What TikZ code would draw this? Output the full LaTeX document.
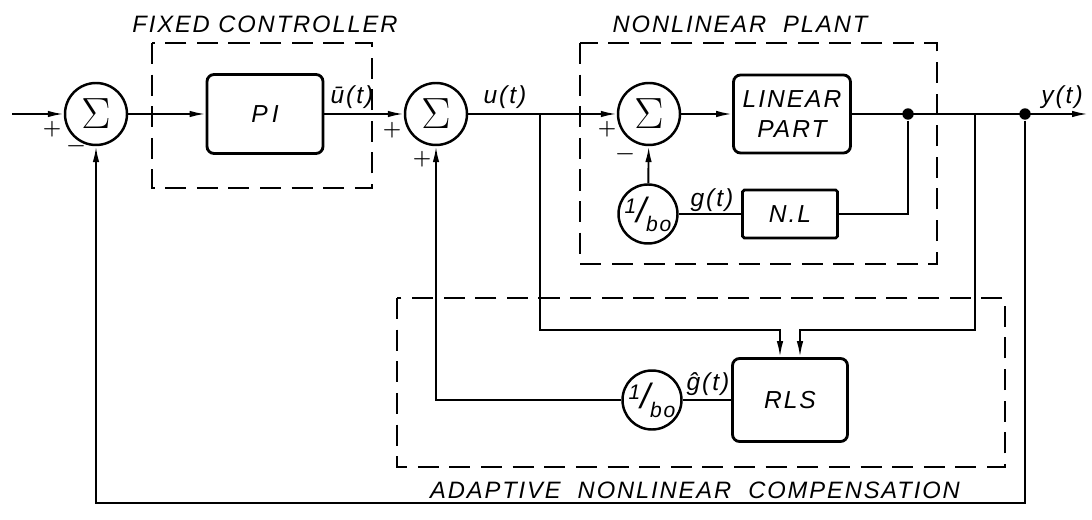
\documentclass[tikz,border=0pt]{standalone}
\usepackage{amsmath}
\usepackage{fontspec}
\usepackage{tikz}
\usetikzlibrary{arrows.meta}
\newfontfamily\lblfont[LetterSpace=8]{Liberation Sans}
\newcommand{\recipb}{\raisebox{5pt}{1}{\fontsize{20}{20}\selectfont/}\raisebox{-5pt}{bo}}

\begin{document}
\begin{tikzpicture}[x=0.02cm, y=-0.02cm, line width=1.1pt,
    >={Latex[length=3.2mm,width=1.3mm]},
    font=\lblfont\itshape\fontsize{14}{16}\selectfont,
    blk/.style={draw, line width=1.6pt, rounded corners=4pt, font=\lblfont\itshape\fontsize{14}{17}\selectfont},
    sum/.style={draw, circle, line width=1.4pt, minimum size=1.24cm, inner sep=0pt, font=\fontsize{25}{26}\selectfont},
    gain/.style={draw, circle, line width=1.4pt, minimum size=1.18cm, inner sep=0pt, font=\lblfont\itshape\fontsize{12}{13}\selectfont},
    grp/.style={line width=1.1pt, dash pattern=on 12pt off 6pt},
    glbl/.style={font=\lblfont\itshape\fontsize{13.5}{16}\selectfont},
    dot/.style={circle, fill, inner sep=0pt, minimum size=6.5pt},
    sgn/.style={font=\bfseries\fontsize{12}{12}\selectfont}]
    \useasboundingbox (0,0) rectangle (1092,520);
    % Groups
    \draw[grp] (152,43) rectangle (372,188);
    \draw[grp] (580,43) rectangle (937,264);
    \draw[grp] (397,298) rectangle (1005,467);
    \node[glbl] (lfix) at (265,24) {FIXED\ CONTROLLER};
    \node[glbl] (lplant) at (740,24) {NONLINEAR\ \ PLANT};
    \node[glbl] (ladapt) at (695,490) {ADAPTIVE\ \ NONLINEAR\ \ COMPENSATION};
    % Blocks
    \node[sum] (sumin) at (96,114) {$\Sigma$};
    \node[blk, minimum width=2.32cm, minimum height=1.58cm] (pic) at (265,114) {P\,I};
    \node[sum] (sumu) at (436,114) {$\Sigma$};
    \node[sum] (sumpl) at (649,114) {$\Sigma$};
    \node[blk, minimum width=2.34cm, minimum height=1.56cm, align=center] (linpart) at (792,114) {LINEAR\\PART};
    \node[blk, rounded corners=1pt, minimum width=1.9cm, minimum height=0.96cm] (nl) at (790,214) {N.L};
    \node[gain] (invb) at (648,214) {\recipb};
    \node[blk, minimum width=2.3cm, minimum height=1.66cm] (rls) at (790,400) {RLS};
    \node[gain] (invbh) at (652,400) {\recipb};
    \node[dot] (dplant) at (908,114) {};
    \node[dot] (dout) at (1025,114) {};
    \coordinate (in) at (12,114);
    \coordinate (out) at (1088,114);
    \coordinate (ubr) at (540,114);
    \coordinate (uk) at (540,330);
    \coordinate (ybr) at (975,114);
    \coordinate (yk) at (975,330);
    \coordinate (fbr) at (1025,503);
    % Forward path
    \draw[->] (in) -- (sumin);
    \draw[->] (sumin) -- (pic);
    \draw[->] (pic) -- (sumu);
    \draw[->] (sumu) -- (sumpl);
    \draw[->] (sumpl) -- (linpart);
    \draw[->] (linpart) -- (out);
    % Nonlinear loop
    \draw (dplant) |- (nl);
    \draw (nl) -- (invb);
    \draw[->] (invb) -- (sumpl);
    % Adaptive part
    \draw[->] (ubr) -- (uk) -| ([xshift=-0.2cm]rls.north);
    \draw[->] (ybr) -- (yk) -| ([xshift=0.2cm]rls.north);
    \draw (rls) -- (invbh);
    \draw[->] (invbh) -| (sumu);
    % Feedback
    \draw[->] (dout) -- (fbr) -| (sumin);
    % Signal labels
    \node (lubar) at (352,97) {ū(t)};
    \node (lu) at (505,97) {u(t)};
    \node (ly) at (1062,97) {y(t)};
    \node (lg) at (712,200) {g(t)};
    \node (lgh) at (708,384) {ĝ(t)};
    \node[sgn] (s1) at (52,129) {+};
    \node[sgn] (s2) at (76,149) {−};
    \node[sgn] (s3) at (392,130) {+};
    \node[sgn] (s4) at (422,159) {+};
    \node[sgn] (s5) at (607,129) {+};
    \node[sgn] (s6) at (625,157) {−};
\end{tikzpicture}
\end{document}
